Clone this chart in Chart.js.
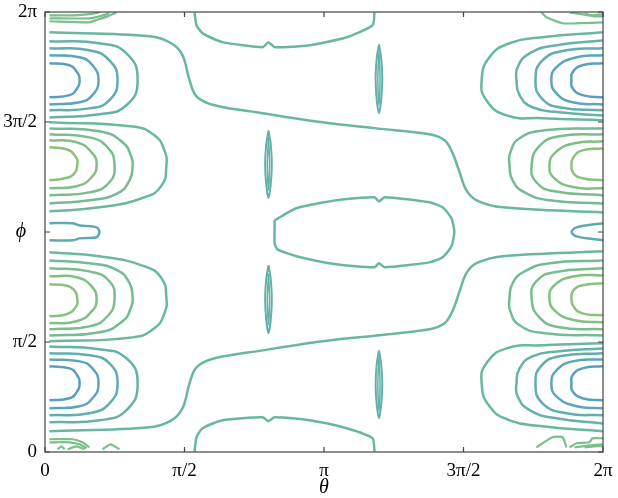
<!DOCTYPE html>
<html>
<head>
<meta charset="utf-8">
<script src="https://cdn.jsdelivr.net/npm/chart.js@4.4.0/dist/chart.umd.min.js"></script>
<style>
    body { margin: 0; background: #fff; }
</style>
</head>
<body>
<canvas id="chartContour" width="618" height="498"></canvas>
<script>
// all angles are in units of pi: [theta, phi]
const tickValues = [0, 0.5, 1, 1.5, 2];
const xTickLabels = ["0", "π/2", "π", "3π/2", "2π"];
const yTickLabels = ["0", "π/2", "", "3π/2", "2π"];

// left edge, upper blue group (inner -> outer)
const leftBlueTop = [
    [[0.016,1.767],[0.088,1.758],[0.113,1.730],[0.124,1.690],[0.113,1.649],[0.088,1.622],[0.016,1.612]],
    [[0.016,1.803],[0.124,1.794],[0.170,1.758],[0.192,1.690],[0.170,1.622],[0.124,1.590],[0.016,1.580]],
    [[0.016,1.835],[0.159,1.826],[0.231,1.780],[0.260,1.690],[0.231,1.599],[0.159,1.562],[0.016,1.553]],
    [[0.016,1.867],[0.195,1.858],[0.292,1.812],[0.332,1.690],[0.292,1.576],[0.195,1.535],[0.016,1.521]]
];

// left edge, upper green group (inner -> outer)
const leftGreenTop = [
    [[0.016,1.385],[0.077,1.376],[0.109,1.344],[0.116,1.308],[0.102,1.262],[0.070,1.244],[0.016,1.235]],
    [[0.016,1.417],[0.113,1.408],[0.167,1.362],[0.185,1.308],[0.167,1.249],[0.113,1.208],[0.016,1.199]],
    [[0.016,1.444],[0.159,1.430],[0.224,1.385],[0.249,1.308],[0.231,1.226],[0.159,1.180],[0.016,1.167]],
    [[0.016,1.471],[0.195,1.458],[0.278,1.408],[0.310,1.340],[0.314,1.299],[0.303,1.235],[0.260,1.176],[0.159,1.144],[0.016,1.130]],
    [[0.016,1.499],[0.314,1.480],[0.392,1.440],[0.428,1.371],[0.435,1.299],[0.418,1.212],[0.357,1.158],[0.195,1.112],[0.016,1.094]]
];

// left edge, lower green group (inner -> outer)
const leftGreenBottom = [
    [[0.016,0.617],[0.077,0.626],[0.109,0.657],[0.116,0.694],[0.102,0.739],[0.070,0.758],[0.016,0.762]],
    [[0.016,0.585],[0.113,0.594],[0.167,0.639],[0.185,0.694],[0.167,0.753],[0.113,0.794],[0.016,0.799]],
    [[0.016,0.558],[0.159,0.571],[0.224,0.617],[0.249,0.694],[0.231,0.776],[0.159,0.821],[0.016,0.835]],
    [[0.016,0.530],[0.195,0.544],[0.278,0.594],[0.310,0.662],[0.314,0.703],[0.303,0.767],[0.260,0.826],[0.159,0.858],[0.016,0.871]],
    [[0.016,0.503],[0.314,0.521],[0.392,0.562],[0.428,0.630],[0.435,0.703],[0.418,0.789],[0.357,0.844],[0.195,0.890],[0.016,0.908]]
];

// left edge, lower blue group (inner -> outer)
const leftBlueBottom = [
    [[0.016,0.235],[0.088,0.244],[0.113,0.271],[0.124,0.312],[0.113,0.353],[0.088,0.380],[0.016,0.390]],
    [[0.016,0.199],[0.124,0.208],[0.170,0.244],[0.192,0.312],[0.170,0.380],[0.124,0.412],[0.016,0.421]],
    [[0.016,0.167],[0.159,0.176],[0.231,0.221],[0.260,0.312],[0.231,0.403],[0.159,0.440],[0.016,0.449]],
    [[0.016,0.135],[0.195,0.144],[0.292,0.190],[0.332,0.312],[0.292,0.426],[0.195,0.467],[0.016,0.480]]
];

// right edge, upper blue group (inner -> outer)
const rightBlueTop = [
    [[2.0,1.767],[1.926,1.758],[1.891,1.726],[1.887,1.690],[1.891,1.653],[1.926,1.622],[2.0,1.612]],
    [[2.0,1.803],[1.905,1.794],[1.833,1.749],[1.815,1.690],[1.833,1.630],[1.891,1.590],[2.0,1.580]],
    [[2.0,1.835],[1.869,1.826],[1.783,1.780],[1.758,1.690],[1.780,1.608],[1.844,1.567],[2.0,1.553]],
    [[2.0,1.871],[1.833,1.849],[1.737,1.812],[1.694,1.749],[1.690,1.690],[1.701,1.622],[1.747,1.567],[1.844,1.544],[2.0,1.530]],
    [[2.0,1.908],[1.783,1.885],[1.665,1.858],[1.593,1.794],[1.565,1.690],[1.582,1.599],[1.654,1.530],[1.783,1.517],[2.0,1.508]]
];

// right edge, upper green group (inner -> outer)
const rightGreenTop = [
    [[2.0,1.380],[1.926,1.371],[1.894,1.340],[1.887,1.303],[1.894,1.267],[1.926,1.244],[2.0,1.235]],
    [[2.0,1.412],[1.898,1.403],[1.830,1.362],[1.808,1.303],[1.826,1.244],[1.898,1.203],[2.0,1.199]],
    [[2.0,1.444],[1.844,1.435],[1.772,1.390],[1.744,1.303],[1.761,1.226],[1.826,1.185],[2.0,1.167]],
    [[2.0,1.471],[1.790,1.462],[1.701,1.426],[1.668,1.362],[1.665,1.303],[1.676,1.235],[1.719,1.180],[1.808,1.144],[2.0,1.130]]
];

// right edge, lower green group (inner -> outer)
const rightGreenBottom = [
    [[2.0,0.621],[1.926,0.630],[1.894,0.662],[1.887,0.699],[1.894,0.735],[1.926,0.758],[2.0,0.767]],
    [[2.0,0.590],[1.898,0.599],[1.830,0.639],[1.808,0.699],[1.826,0.758],[1.898,0.799],[2.0,0.803]],
    [[2.0,0.558],[1.844,0.567],[1.772,0.612],[1.744,0.699],[1.761,0.776],[1.826,0.817],[2.0,0.835]],
    [[2.0,0.530],[1.790,0.540],[1.701,0.576],[1.668,0.639],[1.665,0.699],[1.676,0.767],[1.719,0.821],[1.808,0.858],[2.0,0.871]]
];

// right edge, lower blue group (inner -> outer)
const rightBlueBottom = [
    [[2.0,0.235],[1.926,0.244],[1.891,0.276],[1.887,0.312],[1.891,0.349],[1.926,0.380],[2.0,0.390]],
    [[2.0,0.199],[1.905,0.208],[1.833,0.253],[1.815,0.312],[1.833,0.371],[1.891,0.412],[2.0,0.421]],
    [[2.0,0.167],[1.869,0.176],[1.783,0.221],[1.758,0.312],[1.780,0.394],[1.844,0.435],[2.0,0.449]],
    [[2.0,0.130],[1.833,0.153],[1.737,0.190],[1.694,0.253],[1.690,0.312],[1.701,0.380],[1.747,0.435],[1.844,0.458],[2.0,0.471]],
    [[2.0,0.094],[1.783,0.117],[1.665,0.144],[1.593,0.208],[1.565,0.312],[1.582,0.403],[1.654,0.471],[1.783,0.485],[2.0,0.494]]
];

// the two lines crossing the whole plot
const crossLines = [
    [[0.016,1.908],[0.375,1.890],[0.453,1.858],[0.493,1.803],[0.518,1.690],[0.543,1.617],[0.608,1.576],[0.780,1.540],[0.995,1.499],[1.188,1.471],[1.378,1.444],[1.432,1.417],[1.460,1.362],[1.486,1.271],[1.510,1.190],[1.547,1.144],[1.640,1.112],[2.0,1.089]],
    [[0.016,0.094],[0.375,0.112],[0.453,0.144],[0.493,0.199],[0.518,0.312],[0.543,0.385],[0.608,0.426],[0.780,0.462],[0.995,0.503],[1.188,0.530],[1.378,0.558],[1.432,0.585],[1.460,0.639],[1.486,0.730],[1.510,0.812],[1.547,0.858],[1.640,0.890],[2.0,0.912]]
];

// caps at top / bottom and the oval in the middle
const middleShapes = [
    [[0.536,1.998],[0.543,1.940],[0.565,1.903],[0.636,1.863],[0.780,1.840],[0.801,1.863],[0.823,1.840],[0.948,1.849],[1.081,1.885],[1.174,1.940],[1.181,1.998]],
    [[0.536,0.002],[0.543,0.067],[0.565,0.108],[0.636,0.144],[0.780,0.158],[0.801,0.140],[0.823,0.158],[0.948,0.144],[1.081,0.108],[1.174,0.062],[1.181,0.002]],
    [[0.823,1.053],[0.901,1.108],[1.045,1.144],[1.181,1.158],[1.197,1.139],[1.217,1.158],[1.378,1.135],[1.425,1.112],[1.457,1.062],[1.467,1.0],[1.457,0.935],[1.425,0.885],[1.378,0.862],[1.217,0.840],[1.197,0.858],[1.181,0.840],[1.045,0.853],[0.901,0.890],[0.833,0.921],[0.823,0.949],[0.823,1.053]]
];

// thin lens shaped contours
const lensOuter = [
    [[0.801,1.462],[0.809,1.400],[0.813,1.308],[0.809,1.215],[0.801,1.153],[0.793,1.215],[0.789,1.308],[0.793,1.400],[0.801,1.462]],
    [[0.801,0.849],[0.809,0.787],[0.813,0.694],[0.809,0.601],[0.801,0.540],[0.793,0.601],[0.789,0.694],[0.793,0.787],[0.801,0.849]],
    [[1.197,1.853],[1.205,1.790],[1.209,1.697],[1.205,1.600],[1.197,1.540],[1.189,1.600],[1.185,1.697],[1.189,1.790],[1.197,1.853]],
    [[1.197,0.462],[1.205,0.400],[1.209,0.308],[1.205,0.215],[1.197,0.153],[1.189,0.215],[1.185,0.308],[1.189,0.400],[1.197,0.462]]
];
const lensInner = [
    [[0.801,1.430],[0.805,1.308],[0.801,1.190],[0.797,1.308],[0.801,1.430]],
    [[0.801,0.810],[0.805,0.694],[0.801,0.578],[0.797,0.694],[0.801,0.810]],
    [[1.197,1.820],[1.201,1.697],[1.197,1.575],[1.193,1.697],[1.197,1.820]],
    [[1.197,0.430],[1.201,0.308],[1.197,0.185],[1.193,0.308],[1.197,0.430]]
];

// small closed contours at phi = pi
const blobs = [
    [[0.016,1.040],[0.099,1.040],[0.124,1.030],[0.185,1.021],[0.195,1.0],[0.185,0.976],[0.124,0.971],[0.099,0.962],[0.016,0.962]],
    [[2.0,1.040],[1.905,1.021],[1.887,1.0],[1.905,0.980],[2.0,0.962]]
];

// noisy bits along phi = 0 and phi = 2pi
const edgeBits = [
    [[0.016,1.985],[0.106,1.985],[0.159,1.990],[0.195,1.998]],
    [[0.016,1.971],[0.159,1.971],[0.195,1.980],[0.231,1.994]],
    [[0.016,1.958],[0.159,1.953],[0.181,1.962],[0.224,1.980],[0.256,1.998]],
    [[0.016,0.058],[0.099,0.058],[0.134,0.044],[0.159,0.021]],
    [[0.016,0.044],[0.088,0.044],[0.124,0.035],[0.149,0.017]],
    [[0.045,0.012],[0.059,0.026],[0.070,0.012]],
    [[0.081,0.012],[0.113,0.026],[0.142,0.012]],
    [[0.206,0.012],[0.235,0.035],[0.267,0.012]],
    [[1.780,1.998],[1.798,1.976],[1.855,1.949],[1.916,1.949],[2.0,1.953]],
    [[1.880,1.998],[1.951,1.985],[2.0,1.990]],
    [[1.934,1.994],[1.969,1.980],[2.0,1.980]],
    [[1.761,0.021],[1.819,0.067],[1.855,0.067],[1.869,0.021]],
    [[1.880,0.021],[1.905,0.040],[1.951,0.044],[1.962,0.062],[2.0,0.062]],
    [[1.898,0.021],[1.951,0.030],[2.0,0.035]],
    [[1.934,0.021],[1.969,0.026],[2.0,0.026]]
];

const blueShades = ["#5a9ec0", "#5da6b8", "#61adaf", "#65b2a8", "#69b6a1"];
const greenShades = ["#88c27b", "#80c083", "#79bd8c", "#72bb94", "#6cb89b"];
const midColor = "#69b6a1";
const serif = "'Liberation Serif', 'DejaVu Serif', serif";

function makeSet(points, color, width, tension) {
    return {
        data: points.map(p => ({x: p[0], y: p[1]})),
        showLine: true,
        borderColor: color,
        borderWidth: width,
        pointRadius: 0,
        fill: false,
        tension: tension,
        clip: 0
    };
}

let datasets = [];

function addGroup(lines, colors, width, tension) {
    lines.forEach(function (pts, i) {
        let color = Array.isArray(colors) ? colors[Math.min(i, colors.length - 1)] : colors;
        datasets.push(makeSet(pts, color, width, tension));
    });
}

addGroup(leftBlueTop, blueShades, 2.5, 0.5);
addGroup(leftBlueBottom, blueShades, 2.5, 0.5);
addGroup(rightBlueTop, blueShades, 2.5, 0.5);
addGroup(rightBlueBottom, blueShades, 2.5, 0.5);
addGroup(leftGreenTop, greenShades, 2.5, 0.5);
addGroup(leftGreenBottom, greenShades, 2.5, 0.5);
addGroup(rightGreenTop, greenShades, 2.5, 0.5);
addGroup(rightGreenBottom, greenShades, 2.5, 0.5);
addGroup(crossLines, midColor, 2.5, 0.35);
addGroup(middleShapes, midColor, 2.5, 0.2);
addGroup(lensOuter, "#62b0a6", 2, 0.3);
addGroup(lensInner, "#62b0a6", 1.5, 0.3);
addGroup(blobs, "#5ea9b2", 2.5, 0.3);
addGroup(edgeBits, "#7bbf8b", 2.2, 0.2);

function tickLabel(labels) {
    return function (value) {
        let i = tickValues.indexOf(value);
        return i >= 0 ? labels[i] : "";
    };
}

const framePlugin = {
    id: "frame",
    afterDatasetsDraw(chart) {
        const {ctx, chartArea, scales} = chart;
        ctx.save();
        ctx.strokeStyle = "#444";
        ctx.lineWidth = 1.2;
        ctx.strokeRect(chartArea.left, chartArea.top, chartArea.width, chartArea.height);
        ctx.beginPath();
        for (let v of tickValues) {
            let px = scales.x.getPixelForValue(v);
            let py = scales.y.getPixelForValue(v);
            ctx.moveTo(px, chartArea.bottom);
            ctx.lineTo(px, chartArea.bottom - 5);
            ctx.moveTo(px, chartArea.top);
            ctx.lineTo(px, chartArea.top + 5);
            ctx.moveTo(chartArea.left, py);
            ctx.lineTo(chartArea.left + 5, py);
            ctx.moveTo(chartArea.right, py);
            ctx.lineTo(chartArea.right - 5, py);
        }
        ctx.stroke();
        // y axis title, upright, at phi = pi
        ctx.fillStyle = "#000";
        ctx.font = "italic 20px " + serif;
        ctx.textAlign = "center";
        ctx.textBaseline = "middle";
        ctx.fillText("ϕ", scales.y.left + 21, scales.y.getPixelForValue(1));
        ctx.restore();
    }
};

new Chart("chartContour", {
    type: "scatter",
    data: {datasets: datasets},
    plugins: [framePlugin],
    options: {
        responsive: false,
        animation: false,
        layout: {padding: {top: 12, right: 15, left: 0, bottom: 0}},
        plugins: {
            legend: {display: false},
            tooltip: {enabled: false}
        },
        scales: {
            x: {
                type: "linear",
                min: 0,
                max: 2,
                afterBuildTicks: scale => { scale.ticks = tickValues.map(v => ({value: v})); },
                afterFit: scale => {
                    scale.height = 46;
                    scale.paddingLeft = 0;
                    scale.paddingRight = 0;
                },
                grid: {display: false, drawTicks: false},
                border: {display: false},
                ticks: {
                    callback: tickLabel(xTickLabels),
                    color: "#000",
                    padding: 8,
                    maxRotation: 0,
                    autoSkip: false,
                    font: {family: serif, size: 19}
                },
                title: {
                    display: true,
                    text: "θ",
                    color: "#000",
                    padding: 0,
                    font: {family: serif, size: 20, style: "italic", lineHeight: 1}
                }
            },
            y: {
                type: "linear",
                min: 0,
                max: 2,
                afterBuildTicks: scale => { scale.ticks = tickValues.map(v => ({value: v})); },
                afterFit: scale => {
                    scale.width = 45;
                    scale.paddingTop = 0;
                    scale.paddingBottom = 0;
                },
                grid: {display: false, drawTicks: false},
                border: {display: false},
                ticks: {
                    callback: tickLabel(yTickLabels),
                    color: "#000",
                    padding: 8,
                    autoSkip: false,
                    font: {family: serif, size: 19}
                }
            }
        }
    }
});
</script>
</body>
</html>
